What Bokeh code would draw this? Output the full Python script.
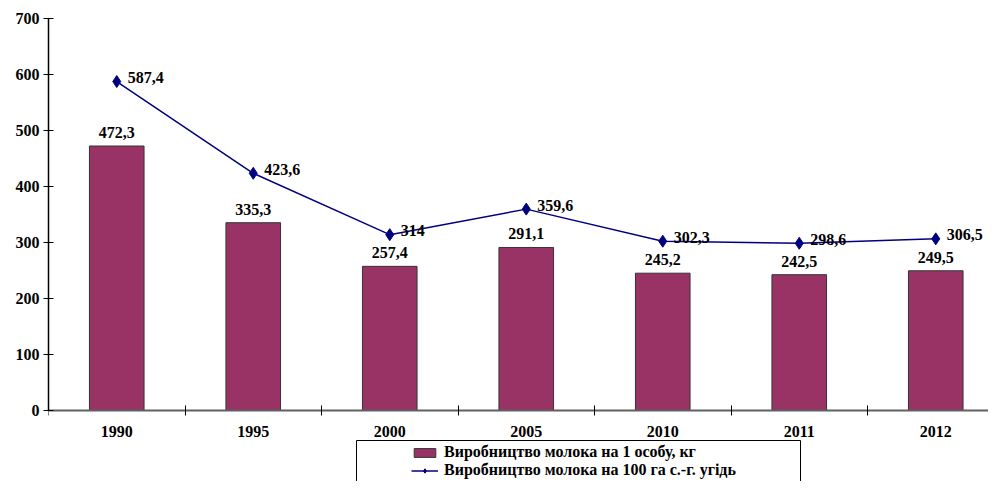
from bokeh.plotting import figure
from bokeh.models import Range1d, FixedTicker, Legend, LegendItem, ColumnDataSource, BoxAnnotation
from bokeh.core.properties import value
from bokeh.embed import file_html
from bokeh.resources import INLINE

years = ["1990", "1995", "2000", "2005", "2010", "2011", "2012"]
milk_per_capita = [472.3, 335.3, 257.4, 291.1, 245.2, 242.5, 249.5]
milk_per_100ha = [587.4, 423.6, 314.0, 359.6, 302.3, 298.6, 306.5]
y_ticks = [0, 100, 200, 300, 400, 500, 600, 700]
bar_name = "Виробництво молока на 1 особу, кг"
line_name = "Виробництво молока на 100 га с.-г. угідь"


def fmt(v):
    return f"{v:g}".replace(".", ",")


xs = list(range(len(years)))
src = ColumnDataSource(dict(
    x=xs, year=years, bar=milk_per_capita, line=milk_per_100ha,
    bar_lbl=[fmt(v) for v in milk_per_capita],
    line_lbl=[fmt(v) for v in milk_per_100ha],
))

FONT = "Liberation Serif"
FS = "16px"

W, H = 988, 481
LEFT, TOP = 48, 18
ZERO_Y = 410                      # pixel row of y = 0
YMAX = 700
CAT_W = 136.5                     # pixel width of one category
ymin = -(H - ZERO_Y) * YMAX / (ZERO_Y - TOP)
xend = -0.5 + (W - LEFT) / CAT_W

p = figure(width=W, height=H, x_range=Range1d(-0.5, xend), y_range=Range1d(ymin, YMAX),
           output_backend="svg", toolbar_location=None,
           min_border_left=LEFT, min_border_right=0, min_border_top=TOP, min_border_bottom=0)
p.outline_line_color = None
p.background_fill_color = "white"
p.xgrid.visible = False
p.ygrid.ticker = FixedTicker(ticks=[YMAX])
p.ygrid.grid_line_color = "#a0a0a0"
p.ygrid.grid_line_width = 2

ya = p.yaxis[0]
ya.ticker = FixedTicker(ticks=y_ticks)
ya.bounds = (0, YMAX)
ya.major_tick_in = 5
ya.major_tick_out = 5
ya.minor_tick_line_color = None
ya.axis_line_color = "black"
ya.axis_line_width = 1.5
ya.major_tick_line_color = "black"
ya.major_label_text_font = FONT
ya.major_label_text_font_style = "bold"
ya.major_label_text_font_size = FS
ya.major_label_text_color = "black"
ya.major_label_standoff = 4

xa = p.xaxis[0]
xa.fixed_location = 0
xa.ticker = FixedTicker(ticks=xs, minor_ticks=[i - 0.5 for i in range(len(years) + 1)])
xa.major_label_overrides = {i: y for i, y in enumerate(years)}
xa.major_tick_line_color = None
xa.major_tick_in = 0
xa.major_tick_out = 0
xa.minor_tick_in = 5
xa.minor_tick_out = 5
xa.minor_tick_line_color = "black"
xa.axis_line_color = "#606060"
xa.axis_line_width = 2
xa.major_label_text_font = FONT
xa.major_label_text_font_style = "bold"
xa.major_label_text_font_size = FS
xa.major_label_text_color = "black"
xa.major_label_standoff = 10

bars = p.vbar(x="x", top="bar", width=0.4, source=src, fill_color="#993366",
              line_color="#333333", line_width=1)
ln = p.line(x="x", y="line", source=src, line_color="#000080", line_width=1.5)
mk = p.scatter(x="x", y="line", source=src, marker="diamond", size=12,
               fill_color="#000080", line_color="#000080")

p.text(x="x", y="bar", text="bar_lbl", source=src, text_align="center",
       text_baseline="bottom", y_offset=-8, text_font=value(FONT),
       text_font_style="bold", text_font_size=FS, text_color="black")
p.text(x="x", y="line", text="line_lbl", source=src, text_align="left",
       text_baseline="middle", x_offset=11, y_offset=-4, text_font=value(FONT),
       text_font_style="bold", text_font_size=FS, text_color="black")

legend = Legend(items=[LegendItem(label=bar_name, renderers=[bars]),
                       LegendItem(label=line_name, renderers=[ln, mk])],
                location=(361, 0))
legend.border_line_alpha = 0
legend.background_fill_alpha = 0
legend.padding = 2
legend.spacing = 0
legend.label_height = 18
legend.glyph_height = 11
legend.glyph_width = 27
legend.label_standoff = 6
legend.label_text_font = FONT
legend.label_text_font_style = "bold"
legend.label_text_font_size = FS
legend.label_text_color = "black"
p.add_layout(legend)

box = BoxAnnotation(left=356, right=800, top=440, bottom=520,
                    left_units="canvas", right_units="canvas",
                    top_units="canvas", bottom_units="canvas",
                    fill_alpha=0, line_color="black", line_width=1, line_alpha=1)
p.add_layout(box)

open("out.html", "w").write(file_html(p, INLINE))
